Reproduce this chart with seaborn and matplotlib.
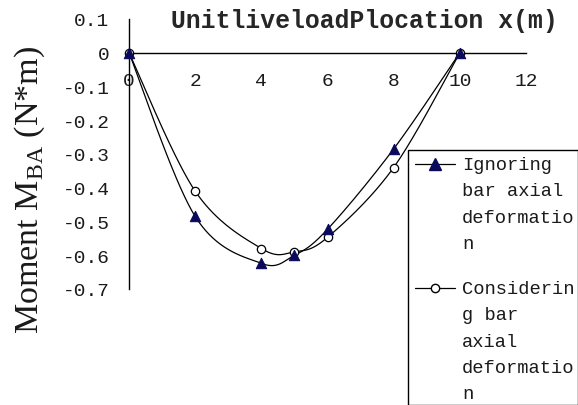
import numpy as np
import matplotlib
matplotlib.use("Agg")
import matplotlib.pyplot as plt
from matplotlib.lines import Line2D
from matplotlib.patches import Rectangle
import seaborn as sns

# Unit live load position and the resulting moment M_BA
positions = [0, 2, 4, 5, 6, 8, 10]
ignoring = [0.0, -0.485, -0.624, -0.600, -0.523, -0.285, 0.0]
considering = [0.0, -0.410, -0.580, -0.590, -0.547, -0.340, 0.0]

x_ticks = [0, 2, 4, 6, 8, 10, 12]
y_ticks = [0.1, 0.0, -0.1, -0.2, -0.3, -0.4, -0.5, -0.6, -0.7]
y_tick_labels = ["0.1", "0", "-0.1", "-0.2", "-0.3", "-0.4", "-0.5", "-0.6", "-0.7"]
series_labels = ["Ignoring\nbar axial\ndeformatio\nn",
                 "Considerin\ng bar\naxial\ndeformatio\nn"]


def smooth_curve(x, y, n=40):
    """Catmull-Rom curve through the given points (spreadsheet-style smoothing)."""
    x = np.asarray(x, float)
    y = np.asarray(y, float)
    px = np.concatenate([[x[0]], x, [x[-1]]])
    py = np.concatenate([[y[0]], y, [y[-1]]])
    t = np.linspace(0, 1, n)[:, None]
    xs, ys = [], []
    for i in range(1, len(px) - 2):
        b0 = np.array([px[i], py[i]])
        b3 = np.array([px[i + 1], py[i + 1]])
        b1 = b0 + (np.array([px[i + 1], py[i + 1]]) - np.array([px[i - 1], py[i - 1]])) / 6
        b2 = b3 - (np.array([px[i + 2], py[i + 2]]) - np.array([px[i], py[i]])) / 6
        pts = ((1 - t) ** 3) * b0 + 3 * ((1 - t) ** 2) * t * b1 + 3 * (1 - t) * t ** 2 * b2 + t ** 3 * b3
        xs.append(pts[:, 0])
        ys.append(pts[:, 1])
    return np.concatenate(xs), np.concatenate(ys)


sns.set_style("white")
plt.rcParams["axes.unicode_minus"] = False
plt.rcParams["mathtext.fontset"] = "custom"
plt.rcParams["mathtext.rm"] = "Liberation Serif"

W, H = 578, 406
fig = plt.figure(figsize=(W / 100, H / 100), dpi=100)
ax = fig.add_axes([129 / W, 1 - 290 / H, 397 / W, 270 / H])

tri_color = "#0a0a5c"
for yv in (ignoring, considering):
    sx, sy = smooth_curve(positions, yv)
    sns.lineplot(x=sx, y=sy, ax=ax, color="black", lw=0.9, sort=False,
                 estimator=None, zorder=2)

sns.scatterplot(x=positions, y=ignoring, ax=ax, marker="^", s=55,
                color=tri_color, edgecolor=tri_color, linewidth=0.8,
                zorder=4, clip_on=False)
sns.scatterplot(x=positions, y=considering, ax=ax, marker="o", s=36,
                facecolor="white", edgecolor="black", linewidth=0.9,
                zorder=3, clip_on=False)

ax.set_xlim(0, 12)
ax.set_ylim(-0.7, 0.1)
ax.set_xticks(x_ticks)
ax.set_yticks(y_ticks)
ax.set_yticklabels(y_tick_labels)

for side in ("top", "right"):
    ax.spines[side].set_visible(False)
ax.spines["bottom"].set_position(("data", 0))
for side in ("left", "bottom"):
    ax.spines[side].set_color("black")
    ax.spines[side].set_linewidth(1.0)

ax.tick_params(axis="both", direction="in", length=5, width=1,
               colors="black", labelcolor="#1a1a1a")
ax.tick_params(axis="x", pad=14)
ax.tick_params(axis="y", pad=14)
for lab in ax.get_xticklabels() + ax.get_yticklabels():
    lab.set_fontfamily("Liberation Mono")
    lab.set_fontsize(14)

ax.set_xlabel("UnitliveloadPlocation x(m)", family="Liberation Mono",
              weight="bold", fontsize=17.8, va="top")
ax.xaxis.set_label_coords(0.594, 1.04)

ax.set_ylabel(r"Moment M$_{\mathrm{BA}}$ (N*m)", family="Liberation Serif",
              fontsize=24.5, color="#1a1a1a")
ax.yaxis.set_label_coords(-0.207, 0.37)

# Boxed key to the right of the curves
fig.add_artist(Rectangle((407.5 / W, 0.5 / H), 170 / W, 254.5 / H,
                         transform=fig.transFigure, facecolor="white",
                         edgecolor="black", lw=1.0, zorder=5))
key_styles = [
    dict(marker="^", markersize=8, markerfacecolor=tri_color,
         markeredgecolor=tri_color),
    dict(marker="o", markersize=6, markerfacecolor="white",
         markeredgecolor="black"),
]
key_rows = [165, 289]
for label, style, yrow in zip(series_labels, key_styles, key_rows):
    yf = 1 - yrow / H
    fig.add_artist(Line2D([415 / W, 455 / W], [yf, yf], transform=fig.transFigure,
                          color="black", lw=0.9, zorder=6))
    fig.add_artist(Line2D([435 / W], [yf], transform=fig.transFigure,
                          lw=0, zorder=7, **style))
    fig.text(462 / W, 1 - (yrow - 8) / H, label, family="Liberation Mono",
             fontsize=13.5, va="top", ha="left", linespacing=1.72,
             color="#1a1a1a", zorder=7)

fig.savefig("out.png", dpi=100)
